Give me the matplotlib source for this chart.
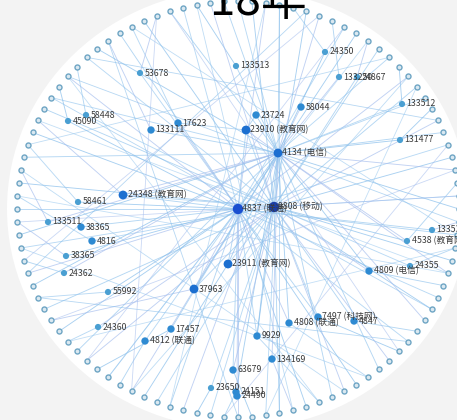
import numpy as np
import matplotlib
matplotlib.use("Agg")
import matplotlib.pyplot as plt
from matplotlib.patches import Ellipse

plt.rcParams['font.family'] = ['Noto Sans CJK SC', 'DejaVu Sans']

title = "18年"

# interior (labelled) nodes: id, label, x, y (layout in pixels), size class
node_ids = ["4134", "9808", "4837", "23910", "23911", "24348", "37963", "23724",
            "58044", "17623", "133111", "133513", "53678", "24350", "133250", "24867",
            "133512", "58448", "45090", "131477", "58461", "133511", "38365a", "4816",
            "38365b", "24362", "55992", "24360", "17457", "4812", "133539", "4538",
            "24355", "4809", "7497", "4808", "4847", "9929", "134169", "63679",
            "23650", "24151", "24490"]
node_labels = ["4134 (电信)", "9808 (移动)", "4837 (联通)", "23910 (教育网)", "23911 (教育网)",
               "24348 (教育网)", "37963", "23724", "58044", "17623", "133111", "133513",
               "53678", "24350", "133250", "24867", "133512", "58448", "45090", "131477",
               "58461", "133511", "38365", "4816", "38365", "24362", "55992", "24360",
               "17457", "4812 (联通)", "133539", "4538 (教育网)", "24355", "4809 (电信)",
               "7497 (科技网)", "4808 (联通)", "4847", "9929", "134169", "63679",
               "23650", "24151", "24490"]
node_x = [278, 274, 238, 246, 228, 123, 194, 256, 301, 178, 151, 236, 140, 325, 339, 357,
          402, 86, 68, 400, 78, 48, 81, 92, 66, 64, 108, 98, 171, 145, 432, 407,
          410, 369, 318, 289, 354, 257, 272, 233, 211, 236, 237]
node_y = [153, 207, 209, 130, 264, 195, 289, 115, 107, 123, 130, 66, 73, 52, 77, 77,
          104, 115, 121, 140, 202, 222, 227, 241, 256, 273, 292, 327, 329, 341, 230, 241,
          266, 271, 317, 323, 321, 336, 359, 370, 388, 392, 396]
node_class = [2, 3, 3, 2, 2, 2, 2, 1, 1, 1, 1, 0, 0, 0, 0, 0,
              0, 0, 0, 0, 0, 0, 1, 1, 0, 0, 0, 0, 1, 1, 0, 0,
              0, 1, 1, 1, 1, 1, 1, 1, 0, 1, 1]

# outer ring: 100 unlabelled nodes, each linked to one inner node (clockwise from top)
ring_to = [
    "4134", "9808", "4837", "4134", "24350", "9808", "4134", "133250", "4837", "4134",
    "24867", "9808", "4134", "133512", "4837", "9808", "4134", "131477", "9808", "4134",
    "4837", "9808", "4134", "4538", "9808",
    "4134", "133539", "4837", "24355", "9808", "4134", "4809", "4837", "9808", "4134",
    "4847", "4837", "7497", "9808", "4134", "4808", "4837", "9808", "4134", "9929",
    "4837", "134169", "9808", "4134", "63679",
    "4837", "24151", "9808", "23650", "4134", "4837", "9808", "23911", "4134", "4812",
    "4837", "17457", "9808", "4134", "24360", "4837", "37963", "9808", "55992", "4134",
    "4837", "24362", "9808", "4134", "38365b",
    "4837", "4816", "9808", "133511", "4134", "58461", "4837", "24348", "9808", "4134",
    "45090", "4837", "58448", "9808", "4134", "133111", "4837", "17623", "9808", "53678",
    "4134", "4837", "133513", "9808", "4134"]

# long links between outer-ring nodes (ring index pairs)
ring_chords = [(2, 55), (5, 70), (8, 62), (12, 80), (15, 48), (18, 88), (22, 66), (27, 92),
               (30, 76), (33, 84), (37, 95), (40, 72), (44, 86), (47, 3), (51, 20), (58, 14),
               (64, 28), (68, 36), (74, 24), (78, 42), (82, 30), (90, 50), (94, 58), (97, 46),
               (60, 10), (86, 26), (71, 6)]

inner_edges = [
    ("4134", "9808"), ("4134", "4837"), ("4134", "23910"), ("4837", "23910"), ("9808", "23910"),
    ("4134", "23724"), ("4134", "58044"), ("4134", "133513"), ("4837", "53678"), ("4134", "24350"),
    ("4134", "133250"), ("9808", "24867"), ("4134", "133512"), ("4134", "131477"), ("4837", "17623"),
    ("4134", "133111"), ("9808", "58448"), ("4837", "45090"), ("4134", "24348"), ("4837", "24348"),
    ("9808", "24348"), ("4837", "58461"), ("4134", "133511"), ("4837", "38365a"), ("9808", "4816"),
    ("4837", "38365b"), ("4134", "24362"), ("4837", "23911"), ("9808", "23911"), ("4134", "23911"),
    ("4837", "37963"), ("9808", "37963"), ("4134", "37963"), ("4837", "55992"), ("9808", "24360"),
    ("4134", "17457"), ("4837", "4812"), ("9808", "4538"), ("4134", "4538"), ("4837", "133539"),
    ("9808", "24355"), ("4134", "4809"), ("9808", "4809"), ("4837", "7497"), ("9808", "7497"),
    ("4134", "4808"), ("4837", "4808"), ("9808", "4847"), ("4837", "9929"), ("9808", "9929"),
    ("4134", "134169"), ("4837", "63679"), ("9808", "23650"), ("4134", "24151"), ("4837", "24490"),
    ("23910", "23724"), ("23910", "17623"), ("4134", "9929"), ("9808", "63679")]

# ---- layout / style ----
W, H = 457, 420
cx, cy, rx, ry = 238, 209, 221, 208
fig = plt.figure(figsize=(W / 100, H / 100), dpi=100, facecolor="#f3f3f3")
ax = fig.add_axes([0, 0, 1, 1])
ax.set_xlim(0, W)
ax.set_ylim(H, 0)
ax.axis("off")
ax.add_patch(Ellipse((cx, cy), 2 * 231, 2 * 220, facecolor="white", edgecolor="none", zorder=0))

n_ring = len(ring_to)
ang = np.deg2rad(90 - np.arange(n_ring) * 360 / n_ring)
ring_x = cx + rx * np.cos(ang)
ring_y = cy - ry * np.sin(ang)

pos = {k: (x, y) for k, x, y in zip(node_ids, node_x, node_y)}

edge_cols = ["#9ccaf0", "#86bdeb", "#a7bfee", "#95c6ee"]
for i, t in enumerate(ring_to):
    tx, ty = pos[t]
    ax.plot([ring_x[i], tx], [ring_y[i], ty], color=edge_cols[i % 4], lw=0.65, alpha=0.7, zorder=1)
for j, (a, b) in enumerate(ring_chords):
    ax.plot([ring_x[a], ring_x[b]], [ring_y[a], ring_y[b]], color=edge_cols[j % 4],
            lw=0.6, alpha=0.6, zorder=1)
for j, (a, b) in enumerate(inner_edges):
    ax.plot([pos[a][0], pos[b][0]], [pos[a][1], pos[b][1]], color=edge_cols[j % 4],
            lw=0.65, alpha=0.7, zorder=1)

ax.scatter(ring_x, ring_y, s=13, facecolor="#dbe9f1", edgecolor="#6ea5c4", linewidths=1.0, zorder=3)

sizes = {0: 20, 1: 28, 2: 40, 3: 56}
colors = {0: "#4a9fd2", 1: "#2e8ad2", 2: "#1c6fd0", 3: "#1a4fd0"}
for k, lab, x, y, c in zip(node_ids, node_labels, node_x, node_y, node_class):
    col = colors[c]
    if k == "9808":
        col = "#1a3ea6"
    ax.scatter([x], [y], s=sizes[c], color=col, edgecolor="none", zorder=4)
    ax.text(x + 4.5, y, lab, fontsize=6.3, color="#3a3a3a", va="center", ha="left", zorder=5)

ax.text(258, 15, title, fontsize=33, color="black", ha="center", va="baseline", zorder=6)

fig.savefig("out.png", dpi=100, facecolor=fig.get_facecolor())
